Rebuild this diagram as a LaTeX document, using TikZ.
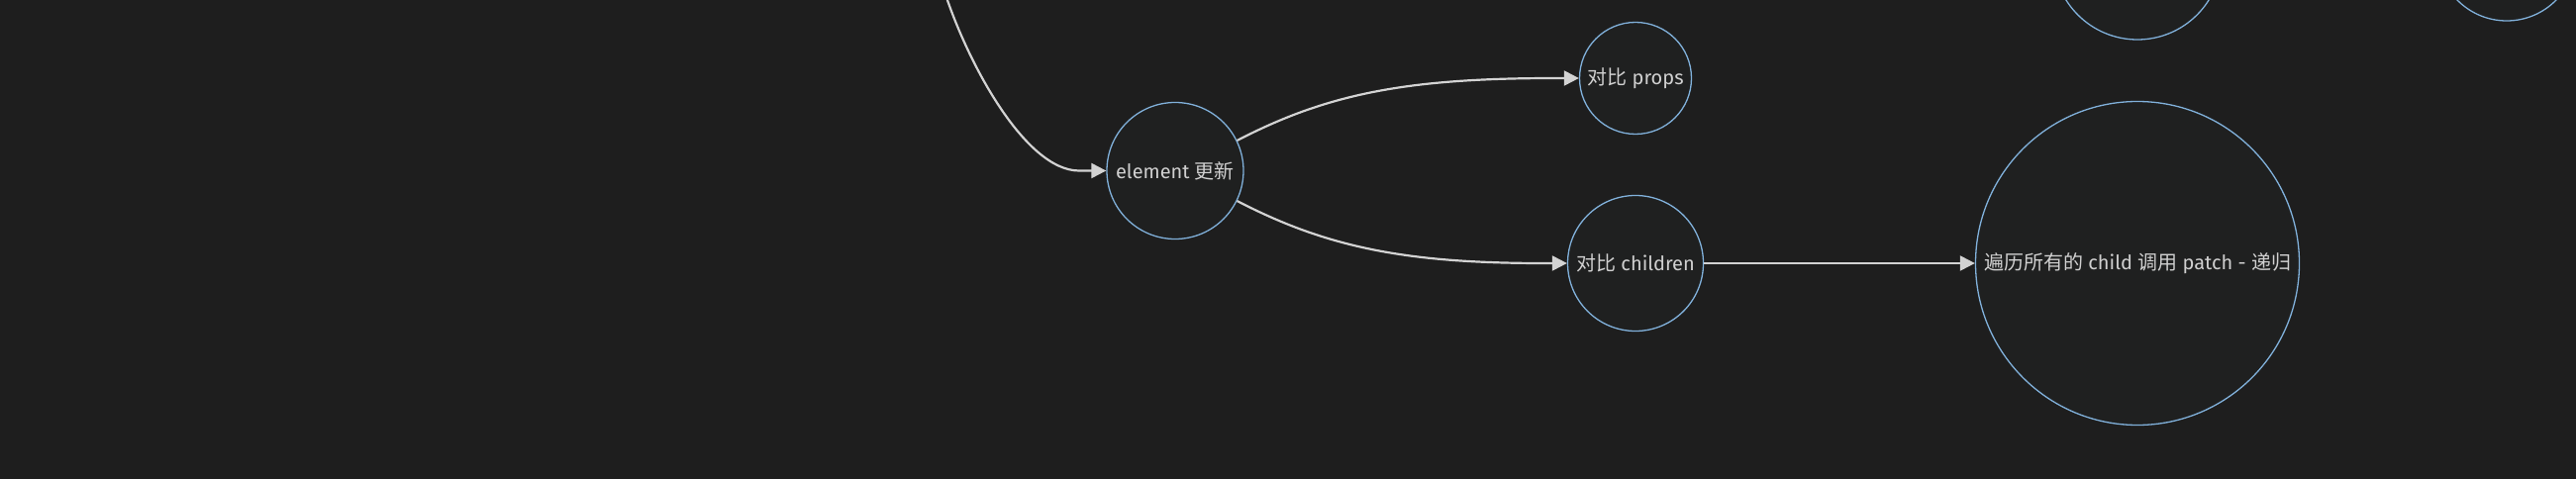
\documentclass[tikz,border=0pt]{standalone}
\usepackage{fontspec}
\setmainfont{Fira Sans}
\newfontfamily\cjk{Noto Sans CJK SC}
\usetikzlibrary{arrows.meta}
\definecolor{bgc}{HTML}{1E1E1E}
\definecolor{nodefill}{HTML}{1F2020}
\definecolor{nodeline}{HTML}{81B1DB}
\definecolor{txt}{HTML}{D0D0D0}
\definecolor{edgec}{HTML}{D3D3D3}
\tikzset{
  circnode/.style={circle, draw=nodeline, fill=nodefill, line width=1.3pt,
    inner sep=0pt, text=txt, font=\fontsize{20}{24}\selectfont},
  edge/.style={draw=edgec, line width=2.2pt, -{Triangle[length=15pt,width=15pt]}},
}
\begin{document}
\begin{tikzpicture}[x=1pt,y=-1pt]
\fill[bgc] (0,0) rectangle (2602,484);
\useasboundingbox (0,0) rectangle (2602,484);
\node[circnode, minimum size=138pt] (el) at (1187,172.5) {element {\cjk 更新}};
\node[circnode, minimum size=113pt] (props) at (1652,79) {{\cjk 对比} props};
\node[circnode, minimum size=137pt] (children) at (1652,266) {{\cjk 对比} children};
\node[circnode, minimum size=327pt] (all) at (2159,266) {{\cjk 遍历所有的} child {\cjk 调用} patch - {\cjk 递归}};
\node[circnode, minimum size=170pt] (top1) at (2159,-45) {};
\node[circnode, minimum size=140pt] (top2) at (2532,-49) {};
\coordinate (src) at (952,-15);
\draw[edge] (src) .. controls (975,60) and (1035,172.5) .. (1090,172.5) -- (el);
\draw[edge] (el.26) .. controls (1340,95) and (1420,79) .. (1570,79) -- (props);
\draw[edge] (el.-26) .. controls (1340,250) and (1420,266) .. (1560,266) -- (children);
\draw[edge] (children) -- (all);
\end{tikzpicture}
\end{document}
